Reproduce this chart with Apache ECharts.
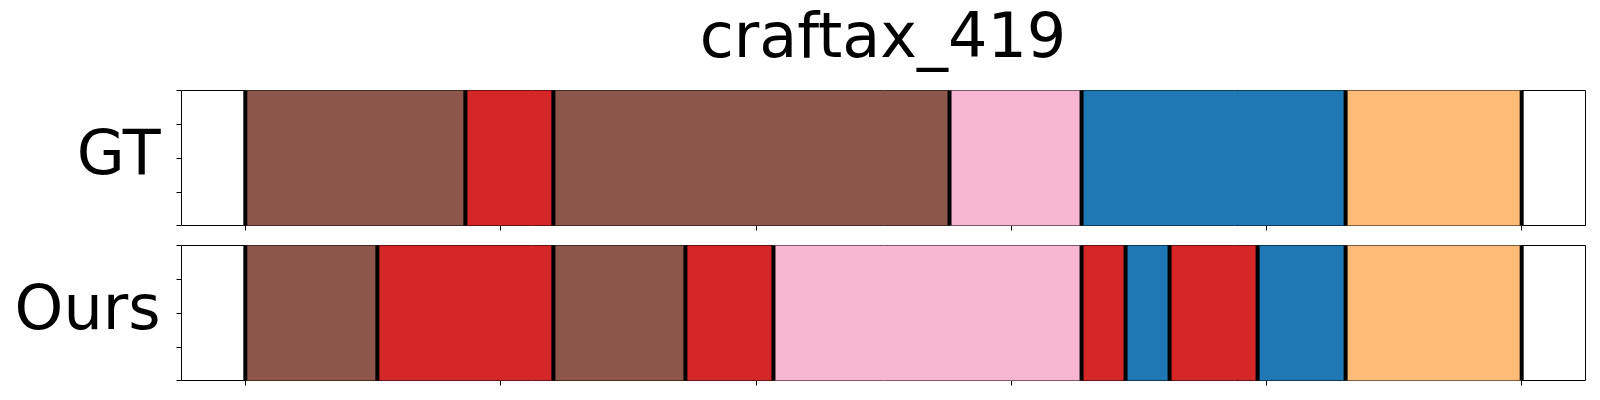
<!DOCTYPE html>
<html>
<head>
<meta charset="utf-8">
<script src="https://cdn.jsdelivr.net/npm/echarts@6/dist/echarts.min.js"></script>
<style>
html,body{margin:0;padding:0;background:#fff;}
#chart{width:1600px;height:400px;}
</style>
</head>
<body>
<div id="chart"></div>
<script>
// ---- data ----
const chartTitle = 'craftax_419';
const rowNames = ['GT', 'Ours'];
const gtBounds = [0, 5, 7, 16, 19, 25, 29];
const gtClasses = ['brown', 'red', 'brown', 'pink', 'blue', 'orange'];
const oursBounds = [0, 3, 7, 10, 12, 19, 20, 21, 23, 25, 29];
const oursClasses = ['brown', 'red', 'brown', 'red', 'pink', 'red', 'blue', 'red', 'blue', 'orange'];
const totalSteps = 29;
const xTickValues = [0, 5.8, 11.6, 17.4, 23.2, 29];
const yTickValues = [0, 0.25, 0.5, 0.75, 1];

const classColors = {
  brown: '#8c564b',
  red: '#d62728',
  pink: '#f7b6d2',
  blue: '#1f77b4',
  orange: '#ffbb78'
};

function segData(bounds, classes) {
  const out = [];
  for (let i = 0; i < classes.length; i++) {
    out.push([bounds[i], bounds[i + 1], classes[i]]);
  }
  return out;
}

const FONT = 'DejaVu Sans';
const margin = totalSteps * 0.05;

function renderSeg(params, api) {
  const s = api.coord([api.value(0), 1]);
  const e = api.coord([api.value(1), 0]);
  const cls = api.value(2);
  return {
    type: 'rect',
    shape: { x: s[0], y: s[1], width: e[0] - s[0], height: e[1] - s[1] },
    style: { fill: classColors[cls] }
  };
}
function renderLine(params, api) {
  const t = api.coord([api.value(0), 1]);
  const b = api.coord([api.value(0), 0]);
  return {
    type: 'line',
    shape: { x1: t[0], y1: t[1], x2: b[0], y2: b[1] },
    style: { stroke: '#000', lineWidth: 4 }
  };
}

const grids = [
  { left: 181.5, top: 90.5, width: 1404, height: 135 },
  { left: 181.5, top: 245.5, width: 1404, height: 135 }
].map(g => Object.assign(g, { show: true, borderColor: '#000', borderWidth: 1, backgroundColor: 'transparent' }));

const xAxes = [0, 1].map(i => ({
  type: 'value', gridIndex: i, min: -margin, max: totalSteps + margin,
  axisLine: { show: false, onZero: false }, splitLine: { show: false },
  axisTick: { show: true, length: 5, customValues: xTickValues, lineStyle: { color: '#000', width: 1 } },
  axisLabel: { show: false }
}));
const yAxes = [0, 1].map(i => ({
  type: 'value', gridIndex: i, min: 0, max: 1, interval: 0.25,
  name: rowNames[i], nameLocation: 'middle', nameRotate: 0, nameGap: 21,
  nameTextStyle: { fontFamily: FONT, fontSize: 62, color: '#000', align: 'right', verticalAlign: 'middle', padding: [0, 0, 10, 0] },
  axisLine: { show: false, onZero: false }, splitLine: { show: false },
  axisTick: { show: true, length: 5, customValues: yTickValues, lineStyle: { color: '#000', width: 1 } },
  axisLabel: { show: false }
}));

const series = [
  { type: 'custom', xAxisIndex: 0, yAxisIndex: 0, renderItem: renderSeg, data: segData(gtBounds, gtClasses), silent: true },
  { type: 'custom', xAxisIndex: 0, yAxisIndex: 0, renderItem: renderLine, data: gtBounds.map(v => [v]), silent: true },
  { type: 'custom', xAxisIndex: 1, yAxisIndex: 1, renderItem: renderSeg, data: segData(oursBounds, oursClasses), silent: true },
  { type: 'custom', xAxisIndex: 1, yAxisIndex: 1, renderItem: renderLine, data: oursBounds.map(v => [v]), silent: true }
];

const chart = echarts.init(document.getElementById('chart'), null, { renderer: 'canvas' });
chart.setOption({
  animation: false,
  backgroundColor: '#fff',
  title: {
    text: chartTitle, left: 883, top: 10, padding: 0, textAlign: 'center',
    textStyle: { fontFamily: FONT, fontSize: 62, fontWeight: 'normal', color: '#000' }
  },
  grid: grids,
  xAxis: xAxes,
  yAxis: yAxes,
  series: series
});
</script>
</body>
</html>
